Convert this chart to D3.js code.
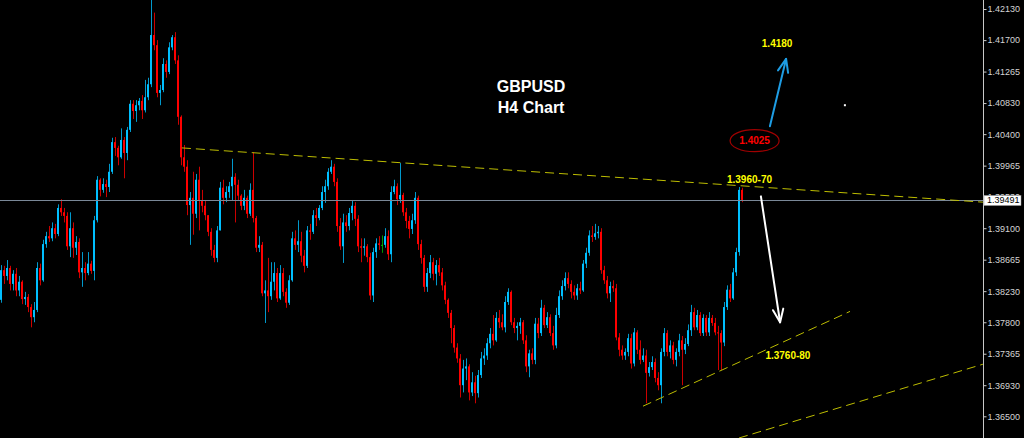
<!DOCTYPE html>
<html><head><meta charset="utf-8">
<script src="https://cdn.jsdelivr.net/npm/d3@7"></script>
<style>html,body{margin:0;padding:0;background:#000;overflow:hidden}</style>
</head><body>
<svg id="c" width="1024" height="438"></svg>
<script>
// ---- DATA (GBPUSD H4) ----
const firstOpen = 1.3811;
const closes = [
1.3852,1.3844,1.3855,1.3833,1.3847,1.3824,1.3836,1.3812,1.3815,1.3801,
1.3787,1.3797,1.3855,1.3838,1.3888,1.3899,1.3896,1.3910,1.3902,1.3938,
1.3932,1.3927,1.3885,1.3910,1.3883,1.3891,1.3849,1.3855,1.3848,1.3861,
1.3851,1.3921,1.3977,1.3963,1.3971,1.3967,1.3988,1.4029,1.4021,1.4008,
1.4032,1.4014,1.4046,1.4082,1.4072,1.4080,1.4086,1.4073,1.4091,1.4109,
1.4177,1.4163,1.4097,1.4101,1.4137,1.4126,1.4160,1.4174,1.4142,1.4064,
1.4008,1.3995,1.3942,1.3952,1.3930,1.3977,1.3949,1.3941,1.3928,1.3905,
1.3880,1.3869,1.3907,1.3966,1.3952,1.3960,1.3968,1.3981,1.3970,1.3955,
1.3941,1.3952,1.3930,1.3963,1.3924,1.3883,1.3887,1.3820,1.3824,1.3816,
1.3836,1.3848,1.3813,1.3848,1.3822,1.3807,1.3838,1.3896,1.3887,1.3892,
1.3872,1.3858,1.3907,1.3905,1.3928,1.3924,1.3938,1.3960,1.3968,1.3988,
1.3995,1.3974,1.3913,1.3885,1.3918,1.3913,1.3931,1.3941,1.3923,1.3885,
1.3883,1.3885,1.3870,1.3817,1.3877,1.3889,1.3887,1.3887,1.3899,1.3874,
1.3960,1.3968,1.3950,1.3956,1.3932,1.3920,1.3909,1.3921,1.3952,1.3888,
1.3869,1.3829,1.3848,1.3863,1.3847,1.3859,1.3849,1.3831,1.3811,1.3793,
1.3772,1.3745,1.3730,1.3693,1.3716,1.3719,1.3683,1.3697,1.3682,1.3707,
1.3730,1.3734,1.3751,1.3764,1.3755,1.3786,1.3780,1.3773,1.3808,1.3822,
1.3780,1.3772,1.3775,1.3780,1.3755,1.3719,1.3737,1.3728,1.3778,1.3765,
1.3800,1.3776,1.3787,1.3765,1.3748,1.3790,1.3816,1.3830,1.3841,1.3833,
1.3822,1.3817,1.3827,1.3824,1.3861,1.3876,1.3900,1.3898,1.3903,1.3905,
1.3852,1.3838,1.3820,1.3830,1.3827,1.3759,1.3742,1.3734,1.3739,1.3758,
1.3723,1.3766,1.3742,1.3728,1.3734,1.3710,1.3718,1.3725,1.3703,1.3693,
1.3739,1.3765,1.3739,1.3748,1.3728,1.3739,1.3755,1.3742,1.3750,1.3769,
1.3794,1.3773,1.3790,1.3765,1.3786,1.3766,1.3786,1.3779,1.3766,1.3765,
1.3752,1.3801,1.3825,1.3813,1.3849,1.3877,1.3963,1.39491];
const highs = [
1.3859,1.3858,1.3866,1.3858,1.3852,1.3855,1.3844,1.3838,1.3822,1.3819,
1.3805,1.3808,1.3863,1.3861,1.3894,1.3905,1.3913,1.3918,1.3916,1.3943,
1.3950,1.3938,1.3932,1.3932,1.3918,1.3899,1.3896,1.3877,1.3863,1.3877,
1.3865,1.3927,1.3982,1.3979,1.3979,1.3977,1.3999,1.4035,1.4036,1.4024,
1.4048,1.4036,1.4050,1.4087,1.4087,1.4087,1.4090,1.4094,1.4115,1.4118,
1.4226,1.4208,1.4170,1.4108,1.4145,1.4142,1.4167,1.4177,1.4181,1.4149,
1.4066,1.4025,1.4004,1.3960,1.3988,1.3985,1.3995,1.3963,1.3949,1.3928,
1.3910,1.3887,1.3913,1.3974,1.3977,1.3968,1.3974,1.4006,1.3986,1.3977,
1.3957,1.3963,1.3955,1.3972,1.4015,1.3927,1.3899,1.3891,1.3838,1.3869,
1.3863,1.3863,1.3855,1.3859,1.3855,1.3827,1.3845,1.3905,1.3907,1.3921,
1.3905,1.3880,1.3913,1.3916,1.3935,1.3938,1.3942,1.3968,1.3977,1.3993,
1.4004,1.3999,1.3979,1.3924,1.3930,1.3928,1.3938,1.3949,1.3946,1.3928,
1.3896,1.3896,1.3888,1.3876,1.3883,1.3896,1.3899,1.3900,1.3910,1.3907,
1.3968,1.3977,1.3972,1.4000,1.3959,1.3938,1.3927,1.3930,1.3960,1.3955,
1.3894,1.3873,1.3855,1.3873,1.3869,1.3866,1.3869,1.3855,1.3836,1.3813,
1.3797,1.3776,1.3751,1.3736,1.3728,1.3730,1.3722,1.3711,1.3706,1.3714,
1.3739,1.3744,1.3758,1.3772,1.3790,1.3794,1.3797,1.3791,1.3816,1.3827,
1.3824,1.3786,1.3780,1.3786,1.3783,1.3762,1.3742,1.3744,1.3786,1.3786,
1.3811,1.3804,1.3794,1.3791,1.3775,1.3800,1.3824,1.3838,1.3849,1.3849,
1.3838,1.3831,1.3833,1.3836,1.3866,1.3883,1.3907,1.3913,1.3916,1.3913,
1.3910,1.3858,1.3844,1.3836,1.3838,1.3833,1.3765,1.3748,1.3744,1.3764,
1.3764,1.3772,1.3769,1.3755,1.3744,1.3742,1.3725,1.3733,1.3730,1.3711,
1.3744,1.3772,1.3769,1.3755,1.3753,1.3744,1.3764,1.3761,1.3758,1.3777,
1.3804,1.3800,1.3797,1.3794,1.3791,1.3790,1.3794,1.3790,1.3786,1.3775,
1.3769,1.3808,1.3831,1.3833,1.3855,1.3883,1.3967,1.3966];
const lows = [
1.3807,1.3833,1.3838,1.3824,1.3824,1.3816,1.3816,1.3805,1.3804,1.3794,
1.3773,1.3780,1.3794,1.3831,1.3836,1.3883,1.3891,1.3892,1.3896,1.3899,
1.3927,1.3918,1.3880,1.3870,1.3869,1.3873,1.3841,1.3829,1.3838,1.3845,
1.3847,1.3838,1.3918,1.3954,1.3959,1.3953,1.3960,1.3985,1.4010,1.3997,
1.4006,1.3979,1.4004,1.4043,1.4061,1.4057,1.4073,1.4061,1.4070,1.4087,
1.4105,1.4156,1.4091,1.4080,1.4098,1.4118,1.4123,1.4156,1.4137,1.4053,
1.3997,1.3988,1.3928,1.3887,1.3901,1.3924,1.3907,1.3932,1.3921,1.3899,
1.3872,1.3863,1.3863,1.3907,1.3943,1.3946,1.3952,1.3949,1.3918,1.3949,
1.3935,1.3935,1.3924,1.3927,1.3918,1.3877,1.3877,1.3816,1.3779,1.3794,
1.3811,1.3824,1.3808,1.3811,1.3816,1.3800,1.3804,1.3836,1.3880,1.3877,
1.3863,1.3849,1.3855,1.3894,1.3902,1.3913,1.3921,1.3935,1.3945,1.3963,
1.3985,1.3968,1.3905,1.3880,1.3862,1.3905,1.3907,1.3921,1.3913,1.3877,
1.3863,1.3872,1.3863,1.3811,1.3808,1.3869,1.3880,1.3876,1.3883,1.3866,
1.3863,1.3957,1.3942,1.3945,1.3927,1.3910,1.3896,1.3902,1.3916,1.3880,
1.3861,1.3822,1.3822,1.3841,1.3838,1.3831,1.3844,1.3824,1.3805,1.3786,
1.3751,1.3738,1.3724,1.3676,1.3683,1.3700,1.3672,1.3678,1.3668,1.3676,
1.3703,1.3721,1.3728,1.3744,1.3748,1.3753,1.3772,1.3769,1.3766,1.3804,
1.3776,1.3765,1.3755,1.3764,1.3750,1.3711,1.3704,1.3722,1.3722,1.3758,
1.3761,1.3772,1.3772,1.3761,1.3742,1.3744,1.3786,1.3811,1.3824,1.3827,
1.3813,1.3811,1.3811,1.3819,1.3822,1.3855,1.3872,1.3891,1.3894,1.3896,
1.3847,1.3833,1.3813,1.3808,1.3822,1.3755,1.3733,1.3728,1.3728,1.3733,
1.3716,1.3719,1.3736,1.3722,1.3725,1.3668,1.3705,1.3714,1.3697,1.3686,
1.3668,1.3733,1.3733,1.3730,1.3722,1.3719,1.3733,1.3693,1.3736,1.3747,
1.3761,1.3769,1.3769,1.3761,1.3761,1.3761,1.3761,1.3775,1.3762,1.3714,
1.3714,1.3747,1.3797,1.3808,1.3811,1.3844,1.3872,1.3946];
const priceTicks = [1.42130,1.41700,1.41265,1.40830,1.40400,1.39965,1.39530,
                    1.39100,1.38665,1.38230,1.37800,1.37365,1.36930,1.36500];
const lastPrice = 1.39491;
// trend lines: [startIndex, startPrice, endIndex, endPrice]
const trendStart = [[60.3, 1.4021], [214, 1.3664], [246, 1.3620]];
const trendEnd   = [[327.3, 1.3946], [283, 1.3795], [327.3, 1.3722]];
const noteTexts  = ["GBPUSD", "H4 Chart", "1.4180", "1.4025", "1.3960-70", "1.3760-80"];
const noteAt     = [[176.7, 1.4106], [176.7, 1.4077], [258.7, 1.4166], [251.2, 1.4031], [249.5, 1.3978], [262.3, 1.3734]];
const arrowFrom  = [[256.3, 1.4051], [253.3, 1.3954]];
const arrowTo    = [[261.7, 1.4144], [259.7, 1.3780]];
const ringAt = [251.2, 1.4031];
const dotAt = [281.3, 1.4080];

// ---- build candle table ----
const candles = closes.map((c, i) => ({
  i, o: i === 0 ? firstOpen : closes[i - 1], h: highs[i], l: lows[i], c
}));

const W = 1024, H = 438, axisX = 983;
const svg = d3.select("#c");
svg.append("rect").attr("width", W).attr("height", H).attr("fill", "#000");

const x = d3.scaleLinear().domain([0, 327.333]).range([1, axisX]);
const y = d3.scaleLinear().domain([1.36500, 1.42130]).range([416.3, 9]);

const BULL = "#00bfff", BEAR = "#ff0000", DOJI = "#00c000";
const col = d => d.c > d.o ? BULL : (d.c < d.o ? BEAR : DOJI);

const plot = svg.append("g");
plot.selectAll("rect.wick").data(candles).join("rect")
  .attr("class", "wick")
  .attr("x", d => x(d.i)).attr("width", 1)
  .attr("y", d => y(d.h)).attr("height", d => Math.max(1, y(d.l) - y(d.h)))
  .attr("fill", col).attr("opacity", 0.8);
plot.selectAll("rect.body").data(candles).join("rect")
  .attr("class", "body")
  .attr("x", d => x(d.i) - 1).attr("width", 2)
  .attr("y", d => y(Math.max(d.o, d.c)))
  .attr("height", d => Math.max(1, Math.abs(y(d.o) - y(d.c))))
  .attr("fill", col);

// current price line
const py = Math.round(y(lastPrice)) + 0.5;
svg.append("line").attr("x1", 0).attr("x2", axisX).attr("y1", py).attr("y2", py)
  .attr("stroke", "#7a8898").attr("stroke-width", 1);

// trend lines
svg.selectAll("line.trend").data(trendStart.map((s, k) => [s, trendEnd[k]])).join("line")
  .attr("class", "trend")
  .attr("x1", d => x(d[0][0])).attr("y1", d => y(d[0][1]))
  .attr("x2", d => x(d[1][0])).attr("y2", d => y(d[1][1]))
  .attr("stroke", "#bdbd00").attr("stroke-width", 1).attr("stroke-dasharray", "9,5");

// arrows
function arrow(from, to, color) {
  const x1 = x(from[0]), y1 = y(from[1]), x2 = x(to[0]), y2 = y(to[1]);
  const g = svg.append("g").attr("stroke", color).attr("stroke-width", 2)
    .attr("stroke-linecap", "round").attr("fill", "none");
  g.append("line").attr("x1", x1).attr("y1", y1).attr("x2", x2).attr("y2", y2);
  const ang = Math.atan2(y1 - y2, x1 - x2), L = 14, a = 0.38;
  [ang - a, ang + a].forEach(t => {
    g.append("line").attr("x1", x2).attr("y1", y2)
      .attr("x2", x2 + L * Math.cos(t)).attr("y2", y2 + L * Math.sin(t));
  });
}
arrow(arrowFrom[0], arrowTo[0], "#1e9de4");
arrow(arrowFrom[1], arrowTo[1], "#ffffff");

// red ring
svg.append("ellipse")
  .attr("cx", x(ringAt[0])).attr("cy", y(ringAt[1]))
  .attr("rx", x(ringAt[0] + 8.17) - x(ringAt[0]))
  .attr("ry", y(ringAt[1] - 0.00152) - y(ringAt[1]))
  .attr("fill", "none").attr("stroke", "#a00000").attr("stroke-width", 1.2);

// small white dot
svg.append("rect").attr("x", x(dotAt[0]) - 1).attr("y", y(dotAt[1]) - 1)
  .attr("width", 2).attr("height", 2).attr("fill", "#fff");

// notes
const noteColor = ["#ffffff", "#ffffff", "#ffff00", "#ff0000", "#ffff00", "#ffff00"];
const noteSize = [16, 16, 10, 10, 10, 10];
svg.selectAll("text.note").data(noteTexts).join("text")
  .attr("class", "note")
  .attr("x", (t, k) => x(noteAt[k][0])).attr("y", (t, k) => y(noteAt[k][1]))
  .attr("dy", "0.35em").attr("text-anchor", "middle")
  .attr("font-family", "'Liberation Sans', Arial, sans-serif").attr("font-weight", "bold")
  .attr("font-size", (t, k) => noteSize[k]).attr("fill", (t, k) => noteColor[k])
  .text(t => t);

// right price axis
svg.append("line").attr("x1", axisX + 0.5).attr("x2", axisX + 0.5).attr("y1", 0).attr("y2", H)
  .attr("stroke", "#c8c8c8").attr("stroke-width", 1);
const ax = svg.append("g").attr("transform", `translate(${axisX + 0.5},0)`)
  .call(d3.axisRight(y).tickValues(priceTicks).tickFormat(d3.format(".5f")).tickSize(3).tickPadding(1));
ax.select(".domain").remove();
ax.selectAll("line").attr("stroke", "#c8c8c8");
ax.selectAll("text").attr("fill", "#d4d4d4").attr("font-size", 9)
  .attr("font-family", "'Liberation Sans', Arial, sans-serif");

// current price box
const by = y(lastPrice);
svg.append("rect").attr("x", axisX + 1).attr("y", Math.round(by) - 4.5).attr("width", 37).attr("height", 10)
  .attr("fill", "#fff").attr("stroke", "#999").attr("stroke-width", 0.5);
svg.append("text").attr("x", axisX + 4).attr("y", by).attr("dy", "0.36em")
  .attr("font-size", 9).attr("font-family", "'Liberation Sans', Arial, sans-serif")
  .attr("fill", "#000").text(d3.format(".5f")(lastPrice));
</script>
</body></html>
